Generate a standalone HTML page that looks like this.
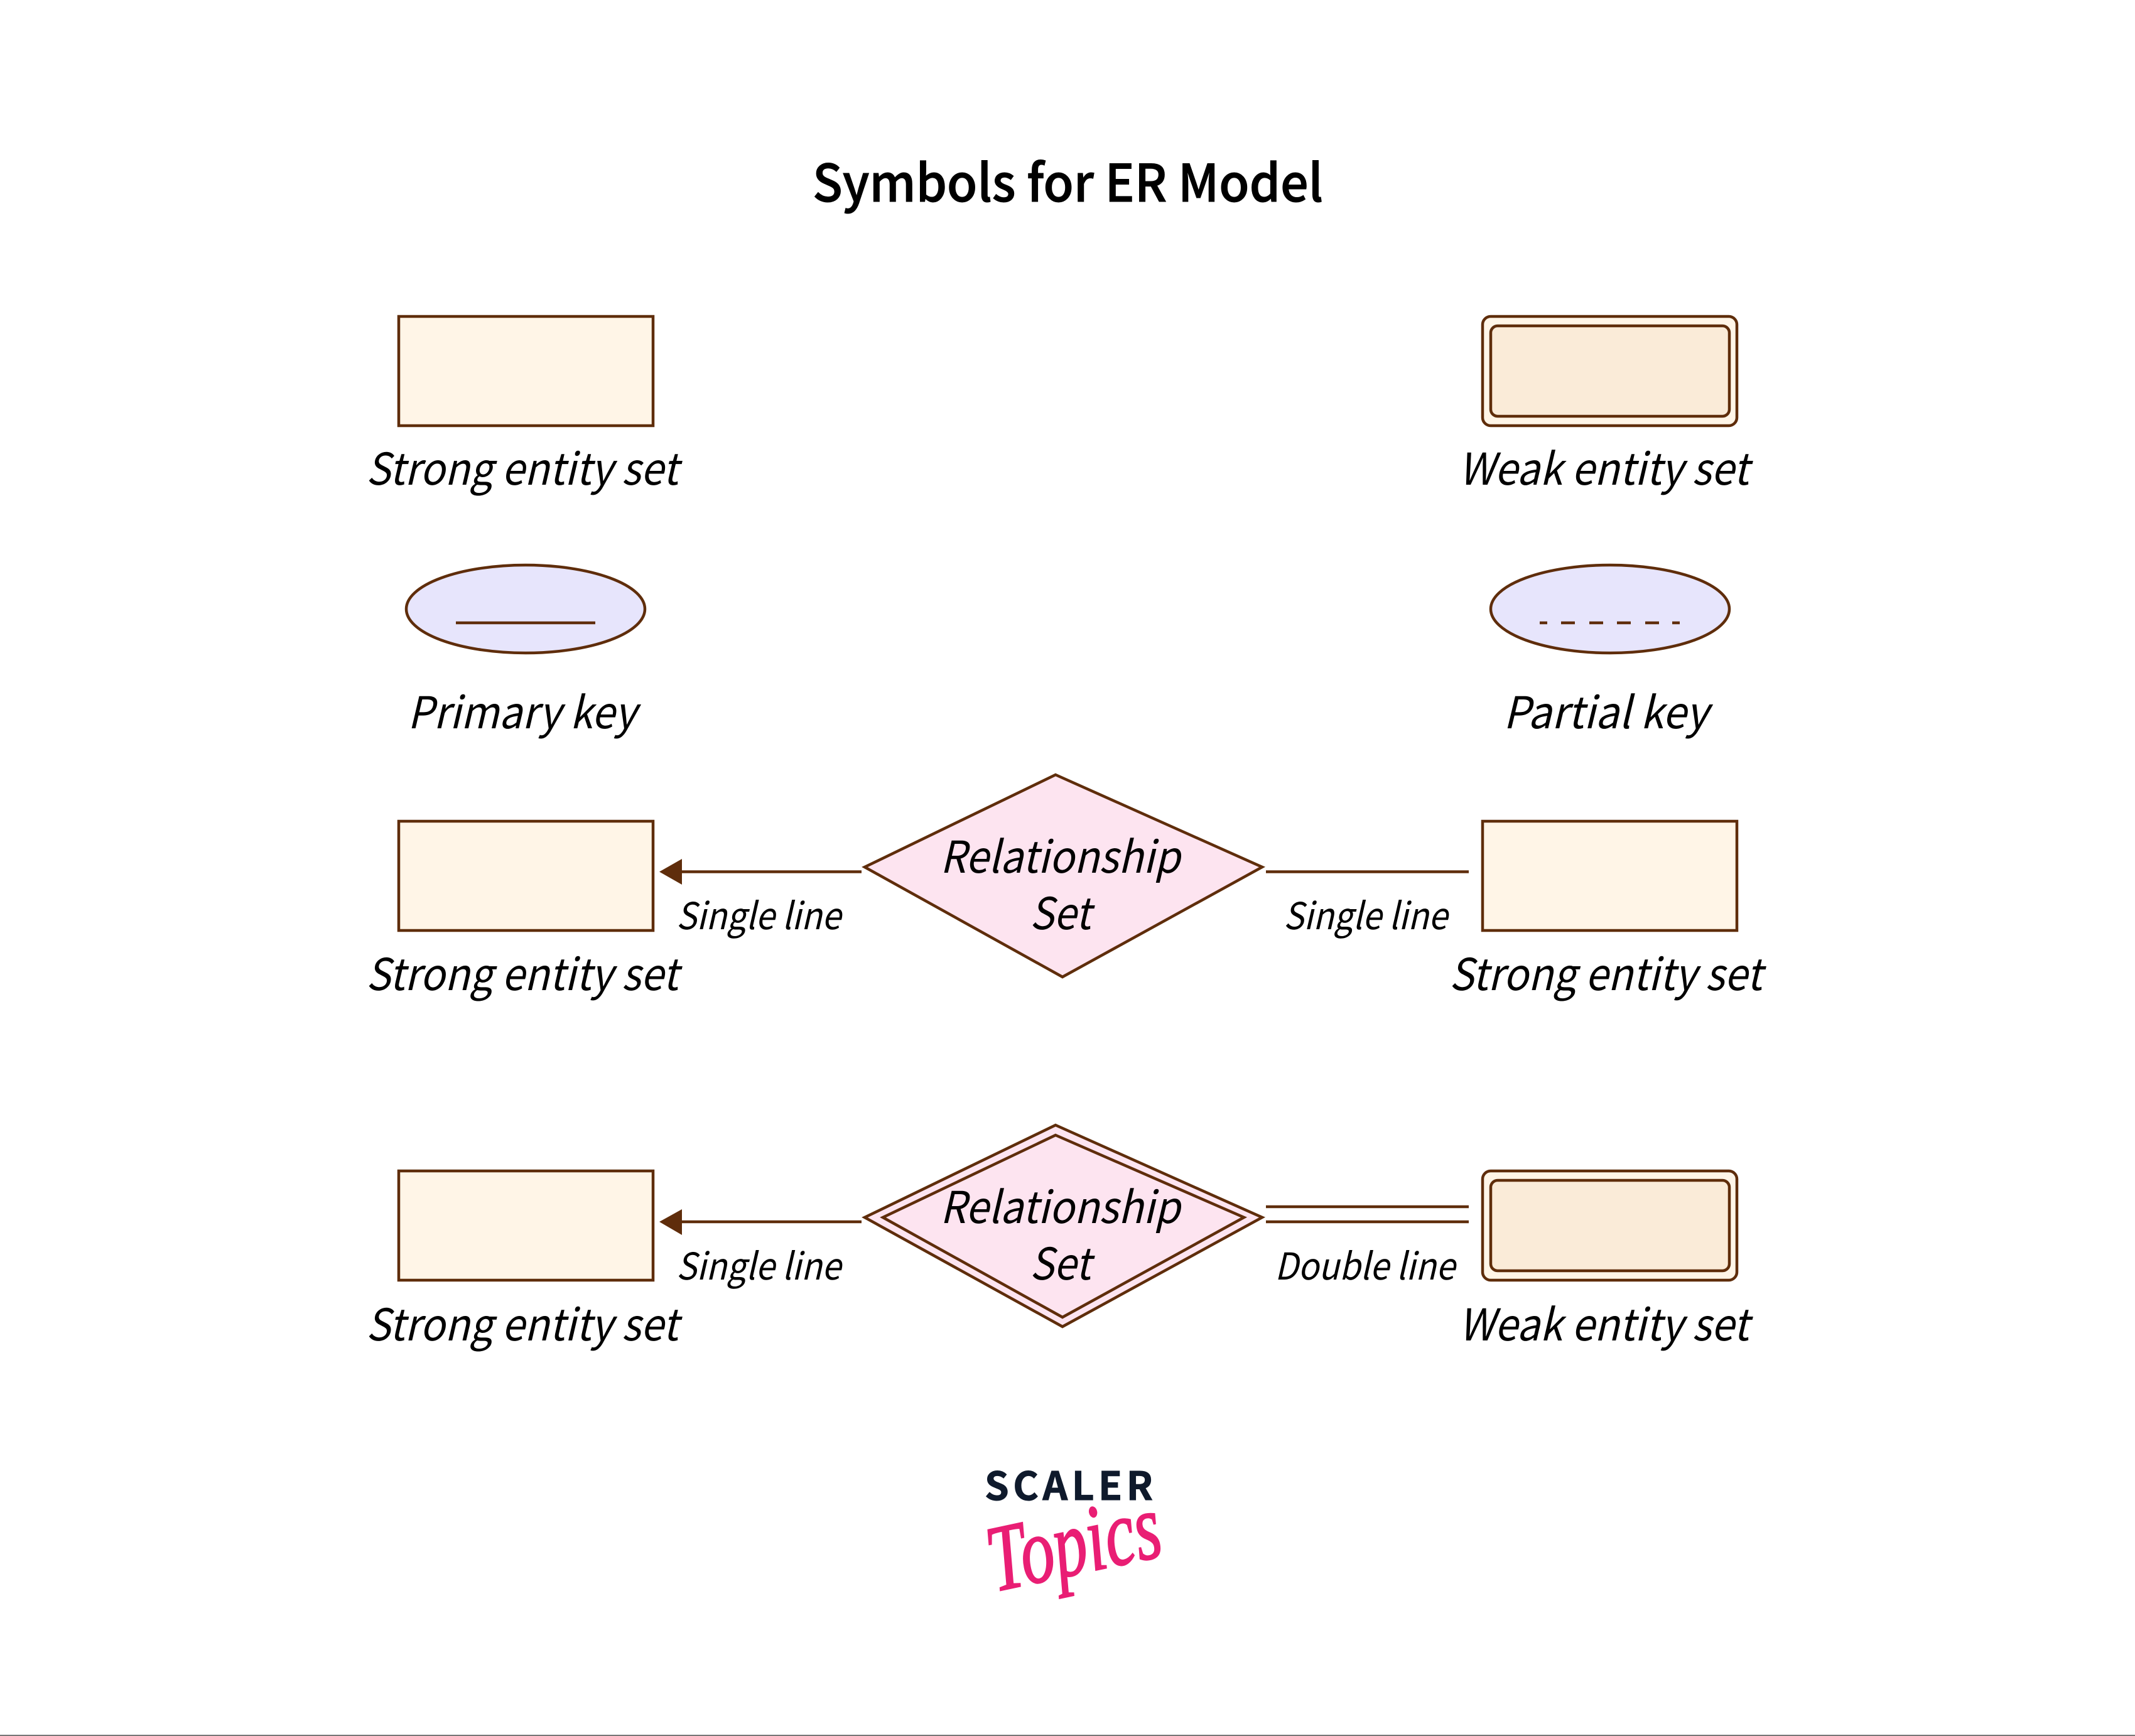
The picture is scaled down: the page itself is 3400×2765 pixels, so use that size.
<!DOCTYPE html>
<html>
<head>
<meta charset="utf-8">
<style>
html,body{margin:0;padding:0;background:#fff}
svg{display:block}
text{font-family:"Liberation Sans","Noto Sans CJK SC",sans-serif}
.l,.s,.t{font-family:"Noto Sans CJK SC","Liberation Sans",sans-serif;fill:#000}
.l{font-size:70px;font-style:italic}
.s{font-size:59px;font-style:italic}
.t{font-size:82px;font-weight:500;stroke:#000;stroke-width:1px}
</style>
</head>
<body>
<svg width="3400" height="2765" viewBox="0 0 3400 2765" xmlns="http://www.w3.org/2000/svg">
<rect width="3400" height="2765" fill="#fff"/>
<rect x="0" y="2763" width="3400" height="2" fill="#777"/>

<text class="t" x="1294" y="321" textLength="813" lengthAdjust="spacingAndGlyphs">Symbols for ER Model</text>

<g stroke="#5f2d0b" stroke-width="4.5">
<!-- row 1 -->
<rect x="635" y="504" width="405" height="174" fill="#fff5e7"/>
<rect x="2361" y="504" width="405" height="174" rx="13" fill="#fff5e7"/>
<rect x="2374" y="519" width="380" height="144" rx="11" fill="#faebd8"/>
<!-- row 2 -->
<ellipse cx="837" cy="970" rx="190" ry="70" fill="#e7e5fc"/>
<line x1="726" y1="992" x2="948" y2="992"/>
<ellipse cx="2564" cy="970" rx="190" ry="70" fill="#e7e5fc"/>
<path d="M2452 992H2464M2486 992H2508M2531 992H2553M2575 992H2597M2620 992H2642M2663 992H2675" fill="none"/>
<!-- row 3 -->
<rect x="635" y="1308" width="405" height="174" fill="#fff5e7"/>
<rect x="2361" y="1308" width="405" height="174" fill="#fff5e7"/>
<polygon points="1681,1234 2010,1381 1692,1556 1377,1381" fill="#fde4f0"/>
<line x1="1084" y1="1388.5" x2="1372" y2="1388.5"/>
<line x1="2016" y1="1388.5" x2="2339" y2="1388.5"/>
<!-- row 4 -->
<rect x="635" y="1865" width="405" height="174" fill="#fff5e7"/>
<rect x="2361" y="1865" width="405" height="174" rx="13" fill="#fff5e7"/>
<rect x="2374" y="1880" width="380" height="144" rx="11" fill="#faebd8"/>
<polygon points="1681,1792 2010,1939 1692,2113 1377,1939" fill="#fde4f0"/>
<polygon points="1681,1808 1981,1939 1692,2098 1406,1939" fill="#fde4f0"/>
<line x1="1084" y1="1946" x2="1372" y2="1946"/>
<line x1="2016" y1="1922" x2="2339" y2="1922"/>
<line x1="2016" y1="1946" x2="2339" y2="1946"/>
</g>
<polygon points="1050,1388.5 1086,1368 1086,1409" fill="#5f2d0b"/>
<polygon points="1050,1946 1086,1926 1086,1967" fill="#5f2d0b"/>

<text class="l" x="583" y="772" textLength="497" lengthAdjust="spacingAndGlyphs">Strong entity set</text>
<text class="l" x="2323" y="772" textLength="462" lengthAdjust="spacingAndGlyphs">Weak entity set</text>
<text class="l" x="649" y="1160" textLength="364" lengthAdjust="spacingAndGlyphs">Primary key</text>
<text class="l" x="2394" y="1160" textLength="326" lengthAdjust="spacingAndGlyphs">Partial key</text>

<text class="l" x="583" y="1577" textLength="497" lengthAdjust="spacingAndGlyphs">Strong entity set</text>
<text class="l" x="2308" y="1577" textLength="498" lengthAdjust="spacingAndGlyphs">Strong entity set</text>
<text class="l" x="583" y="2135" textLength="497" lengthAdjust="spacingAndGlyphs">Strong entity set</text>
<text class="l" x="2323" y="2135" textLength="462" lengthAdjust="spacingAndGlyphs">Weak entity set</text>

<text class="l" x="1497" y="1390" textLength="382" lengthAdjust="spacingAndGlyphs">Relationship</text>
<text class="l" x="1640" y="1480" textLength="97" lengthAdjust="spacingAndGlyphs">Set</text>
<text class="l" x="1497" y="1948" textLength="382" lengthAdjust="spacingAndGlyphs">Relationship</text>
<text class="l" x="1640" y="2038" textLength="97" lengthAdjust="spacingAndGlyphs">Set</text>

<text class="s" x="1077" y="1480" textLength="262" lengthAdjust="spacingAndGlyphs">Single line</text>
<text class="s" x="2044" y="1480" textLength="261" lengthAdjust="spacingAndGlyphs">Single line</text>
<text class="s" x="1077" y="2038" textLength="262" lengthAdjust="spacingAndGlyphs">Single line</text>
<text class="s" x="2030" y="2038" textLength="287" lengthAdjust="spacingAndGlyphs">Double line</text>

<!-- logo -->
<text x="1568" y="2389" textLength="268" lengthAdjust="spacing" style="font-family:'Noto Sans CJK SC','Liberation Sans',sans-serif;font-size:62px;font-weight:700;fill:#0f1a2c;stroke:#0f1a2c;stroke-width:1px">SCALER</text>
<g transform="translate(1584,2535) rotate(-12) scale(0.86,1.2)">
<text x="0" y="0" style="font-family:'Liberation Serif',serif;font-style:italic;font-size:125px;fill:#e91e74;stroke:#e91e74;stroke-width:2">T<tspan font-size="125" dx="-10">opics</tspan></text>
</g>
</svg>
</body>
</html>
